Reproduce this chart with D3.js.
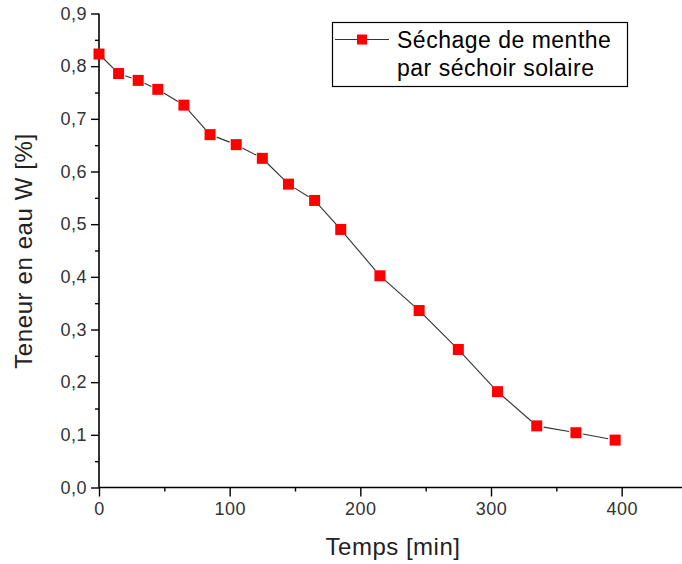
<!DOCTYPE html>
<html>
<head>
<meta charset="utf-8">
<script src="https://cdn.jsdelivr.net/npm/d3@7"></script>
<style>
  html, body { margin: 0; padding: 0; background: #fff; }
  svg { display: block; font-family: "Liberation Sans", Arial, sans-serif; }
</style>
</head>
<body>
<svg id="chart" width="682" height="564"></svg>
<script>
// drying data
const temps = [0, 15, 30, 45, 65, 85, 105, 125, 145, 165, 185, 215, 245, 275, 305, 335, 365, 395];
const teneur = [0.823, 0.786, 0.773, 0.756, 0.726, 0.670, 0.651, 0.625, 0.576, 0.545, 0.490, 0.402, 0.336, 0.262, 0.182, 0.117, 0.104, 0.090];
const xTicks = [0, 100, 200, 300, 400];
const yTicks = [0, 0.1, 0.2, 0.3, 0.4, 0.5, 0.6, 0.7, 0.8, 0.9];
const legendLines = ["Séchage de menthe", "par séchoir solaire"];

const svg = d3.select("#chart");
const x = d3.scaleLinear().domain([0, 450]).range([99, 687]);
const y = d3.scaleLinear().domain([0, 0.9]).range([487.5, 13.5]);
const fmt = d => d3.format(".1f")(d).replace(".", ",");

// y axis
const yAxis = svg.append("g").attr("transform", `translate(${x(0)},0)`)
  .call(d3.axisLeft(y).tickValues(yTicks).tickFormat(fmt).tickSize(8).tickPadding(4));
svg.append("g").attr("transform", `translate(${x(0)},0)`)
  .call(d3.axisLeft(y).tickValues(d3.range(0.05, 0.9, 0.1)).tickFormat("").tickSize(4))
  .select(".domain").remove();

// x axis
const xAxis = svg.append("g").attr("transform", `translate(0,${y(0)})`)
  .call(d3.axisBottom(x).tickValues(xTicks).tickSize(9).tickPadding(6));
svg.append("g").attr("transform", `translate(0,${y(0)})`)
  .call(d3.axisBottom(x).tickValues([50, 150, 250, 350]).tickFormat("").tickSize(4))
  .select(".domain").remove();

svg.selectAll(".domain").attr("stroke", "#000").attr("stroke-width", 1.6);
svg.selectAll(".tick line").attr("stroke", "#000").attr("stroke-width", 1.4);
svg.selectAll(".tick text").attr("font-size", 18).attr("letter-spacing", 0.5).attr("fill", "#333")
  .attr("font-family", "Liberation Sans, Arial, sans-serif");
yAxis.selectAll(".domain").attr("d", `M0,${y(0.9)}V${y(0)}`);
xAxis.selectAll(".domain").attr("d", `M${x(0)},0H${x(450)}`);

// connecting line, with small gaps around markers
const pts = temps.map((t, i) => [x(t), y(teneur[i])]);
const gap = 7;
const segs = d3.pairs(pts).map(([a, b]) => {
  const dx = b[0] - a[0], dy = b[1] - a[1], len = Math.hypot(dx, dy);
  const ux = dx / len, uy = dy / len;
  return [a[0] + ux * gap, a[1] + uy * gap, b[0] - ux * gap, b[1] - uy * gap];
});
svg.append("g").selectAll("line").data(segs).join("line")
  .attr("x1", d => d[0]).attr("y1", d => d[1]).attr("x2", d => d[2]).attr("y2", d => d[3])
  .attr("stroke", "#333").attr("stroke-width", 1.1);

// markers
const ms = 11;
svg.append("g").selectAll("rect").data(pts).join("rect")
  .attr("x", d => d[0] - ms / 2).attr("y", d => d[1] - ms / 2)
  .attr("width", ms).attr("height", ms).attr("fill", "#ff0000");

// axis titles
svg.append("text").attr("x", 393).attr("y", 555)
  .attr("text-anchor", "middle").attr("font-size", 24).attr("letter-spacing", 0.5).attr("fill", "#222")
  .text("Temps [min]");
svg.append("text").attr("transform", "translate(32,251) rotate(-90)")
  .attr("text-anchor", "middle").attr("font-size", 24).attr("letter-spacing", 0.6).attr("fill", "#222")
  .text("Teneur en eau W [%]");

// legend
const lg = svg.append("g");
lg.append("rect").attr("x", 332.5).attr("y", 22.5).attr("width", 295).attr("height", 64)
  .attr("fill", "#fff").attr("stroke", "#000").attr("stroke-width", 1.2);
lg.append("line").attr("x1", 335).attr("x2", 389).attr("y1", 39.5).attr("y2", 39.5)
  .attr("stroke", "#333").attr("stroke-width", 1.1);
lg.append("rect").attr("x", 362 - 5).attr("y", 39.5 - 5).attr("width", 10).attr("height", 10)
  .attr("fill", "#ff0000");
lg.selectAll("text").data(legendLines).join("text")
  .attr("x", 397).attr("y", (d, i) => 47.5 + i * 28.5)
  .attr("font-size", 23).attr("letter-spacing", 0.5).attr("fill", "#000").text(d => d);
</script>
</body>
</html>
